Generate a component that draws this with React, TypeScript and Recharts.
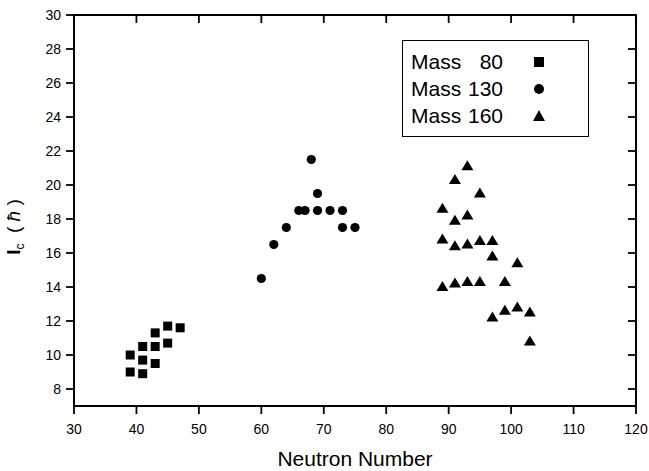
import { Label, ReferenceArea, Scatter, ScatterChart, XAxis, YAxis } from "recharts"

const xTicks = [30, 40, 50, 60, 70, 80, 90, 100, 110, 120]
const yTicks = [8, 10, 12, 14, 16, 18, 20, 22, 24, 26, 28, 30]
const yTop = 30

const seriesNames = ["Mass 80", "Mass 130", "Mass 160"]

// Mass 80 region
const mass80N = [39, 39, 41, 41, 41, 43, 43, 43, 45, 45, 47]
const mass80Ic = [10.0, 9.0, 10.5, 9.7, 8.9, 11.3, 10.5, 9.5, 11.7, 10.7, 11.6]

// Mass 130 region
const mass130N = [60, 62, 64, 66, 67, 68, 69, 69, 71, 73, 73, 75]
const mass130Ic = [14.5, 16.5, 17.5, 18.5, 18.5, 21.5, 19.5, 18.5, 18.5, 18.5, 17.5, 17.5]

// Mass 160 region
const mass160N = [89, 89, 89, 91, 91, 91, 91, 93, 93, 93, 93, 95, 95, 95, 97, 97, 97, 99, 99, 101, 101, 103, 103]
const mass160Ic = [
  18.6, 16.8, 14.0, 20.3, 17.9, 16.4, 14.2, 21.1, 18.2, 16.5, 14.3, 19.5, 16.7, 14.3, 16.7, 15.8, 12.2, 14.3,
  12.6, 15.4, 12.8, 12.5, 10.8,
]

const toPoints = (n: number[], ic: number[]) => n.map((v, i) => ({ n: v, ic: ic[i] }))

const font = "'Liberation Sans', Arial, Helvetica, sans-serif"
const ink = "#000"

const SquareDot = (p: any) => <rect x={p.cx - 4.5} y={p.cy - 4.5} width={9} height={9} fill={ink} />
const CircleDot = (p: any) => <circle cx={p.cx} cy={p.cy} r={4.6} fill={ink} />
const TriangleDot = (p: any) => (
  <polygon points={`${p.cx},${p.cy - 6} ${p.cx - 6},${p.cy + 4} ${p.cx + 6},${p.cy + 4}`} fill={ink} />
)
const NoDot = () => <g />
// inward tick on the top edge of the frame
const TopTick = (p: any) => <line x1={p.cx} x2={p.cx} y1={p.cy} y2={p.cy + 8} stroke={ink} strokeWidth={1.8} />

const legendMarks: Record<string, JSX.Element> = {
  "80": <rect x={1} y={1} width={10} height={10} fill={ink} />,
  "130": <circle cx={6} cy={6} r={5} fill={ink} />,
  "160": <polygon points="6,0 0,11 12,11" fill={ink} />,
}

function LegendBox() {
  return (
    <div
      style={{
        position: "absolute",
        left: 402,
        top: 40,
        boxSizing: "border-box",
        width: 187,
        height: 97,
        border: "1.5px solid #000",
        background: "#fff",
        padding: "7px 0 0 8px",
        fontFamily: font,
        fontSize: 21,
        color: ink,
      }}
    >
      {seriesNames.map((name) => {
        const num = name.replace("Mass ", "")
        return (
          <div key={name} style={{ display: "flex", alignItems: "center", height: 27 }}>
            <span style={{ width: 51 }}>Mass</span>
            <span style={{ width: 41, textAlign: "right" }}>{num}</span>
            <svg width={12} height={12} style={{ marginLeft: 30 }}>
              {legendMarks[num]}
            </svg>
          </div>
        )
      })}
    </div>
  )
}

const YTitle = () => (
  <text
    x={20}
    y={227}
    transform="rotate(-90 20 227)"
    textAnchor="middle"
    fontFamily={font}
    fontSize={19}
    fill={ink}
  >
    <tspan fontWeight="bold">I</tspan>
    <tspan fontSize={12} dy={4}>
      c
    </tspan>
    <tspan dy={-4}>{"\u00a0\u00a0(\u00a0"}</tspan>
    <tspan fontStyle="italic">ħ</tspan>
    <tspan>{"\u00a0)"}</tspan>
  </text>
)

export default function App() {
  const tickStyle = { fontFamily: font, fontSize: 14, fill: ink }
  const axisLine = { stroke: ink, strokeWidth: 1.8 }
  return (
    <div style={{ position: "absolute", left: 0, top: 0, width: 649, height: 471, background: "#fff" }}>
      <ScatterChart width={649} height={471} margin={{ top: 15, right: 13, left: 0, bottom: 0 }}>
        <XAxis
          dataKey="n"
          type="number"
          domain={[30, 120]}
          ticks={xTicks}
          height={65}
          tickSize={8}
          tickMargin={10}
          tick={tickStyle}
          axisLine={axisLine}
          tickLine={axisLine}
        >
          <Label
            value="Neutron Number"
            position="insideBottom"
            offset={5}
            style={{ fontFamily: font, fontSize: 21, fill: ink }}
          />
        </XAxis>
        <YAxis
          dataKey="ic"
          type="number"
          domain={[7, 30]}
          ticks={yTicks}
          width={74}
          tickSize={8}
          tickMargin={5}
          tick={tickStyle}
          axisLine={axisLine}
          tickLine={axisLine}
        >
          <Label content={<YTitle />} />
        </YAxis>
        {/* right frame edge */}
        <YAxis
          yAxisId="right"
          dataKey="ic"
          orientation="right"
          type="number"
          domain={[7, 30]}
          ticks={yTicks}
          width={20}
          mirror
          tickSize={8}
          tick={NoDot}
          axisLine={axisLine}
          tickLine={axisLine}
        />
        {/* whole frame outline */}
        <ReferenceArea
          x1={30}
          x2={120}
          y1={7}
          y2={yTop}
          fill="none"
          fillOpacity={0}
          stroke={ink}
          strokeWidth={1.8}
          ifOverflow="visible"
        />
        {/* top frame edge with its ticks */}
        <Scatter
          name="frameTop"
          data={xTicks.map((t) => ({ n: t, ic: yTop }))}
          shape={TopTick}
          line={{ stroke: ink, strokeWidth: 1.8 }}
          legendType="none"
          isAnimationActive={false}
        />
        <Scatter
          name="Mass 80"
          data={toPoints(mass80N, mass80Ic)}
          shape={SquareDot}
          fill={ink}
          isAnimationActive={false}
        />
        <Scatter
          name="Mass 130"
          data={toPoints(mass130N, mass130Ic)}
          shape={CircleDot}
          fill={ink}
          isAnimationActive={false}
        />
        <Scatter
          name="Mass 160"
          data={toPoints(mass160N, mass160Ic)}
          shape={TriangleDot}
          fill={ink}
          isAnimationActive={false}
        />
        {/* carries the right frame axis */}
        <Scatter
          name="frame"
          yAxisId="right"
          data={toPoints(mass80N, mass80Ic)}
          shape={NoDot}
          legendType="none"
          isAnimationActive={false}
        />
      </ScatterChart>
      <LegendBox />
    </div>
  )
}
